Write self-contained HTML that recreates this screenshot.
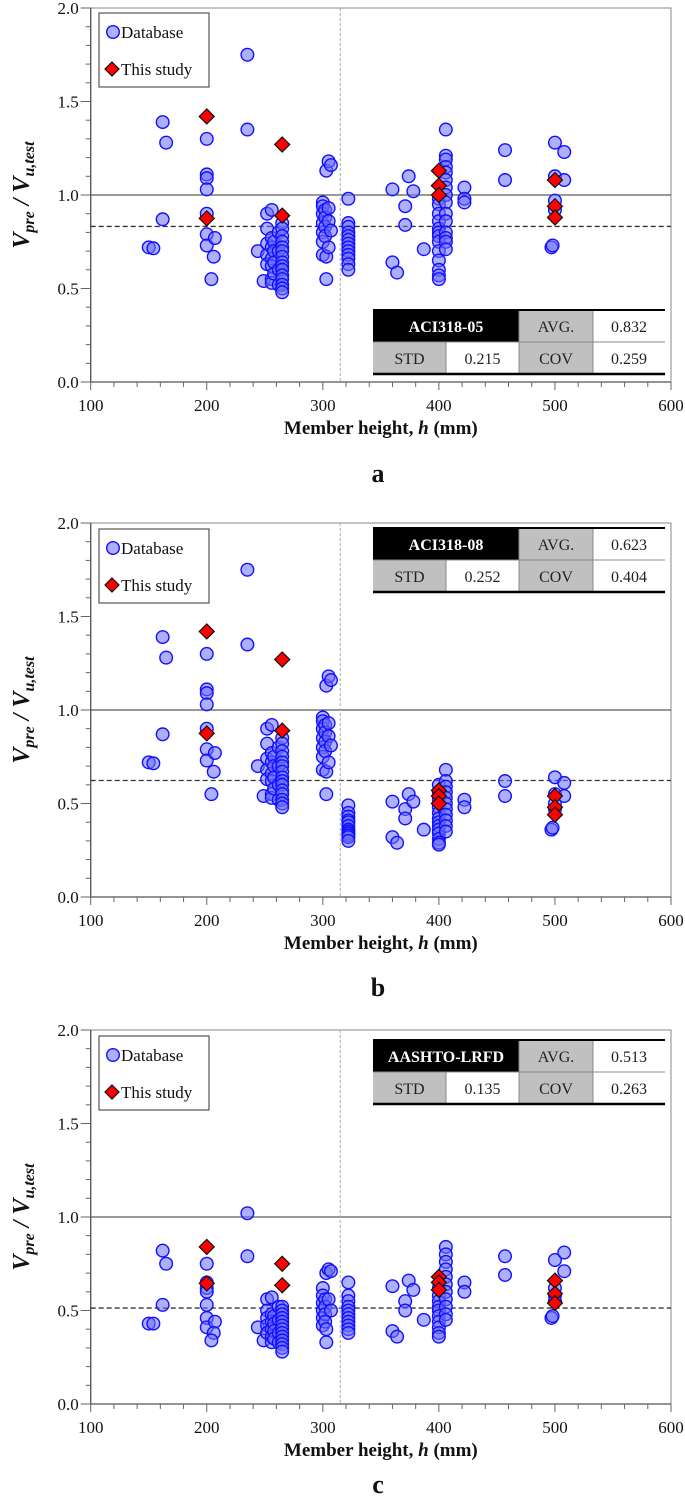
<!DOCTYPE html>
<html><head><meta charset="utf-8">
<style>
html,body{margin:0;padding:0;background:#fff;}
svg{display:block;font-family:"Liberation Serif",serif;}
</style></head>
<body>
<svg id="chart" width="685" height="1500" viewBox="0 0 685 1500" xmlns="http://www.w3.org/2000/svg"></svg>
<script>
// ---------- data ----------
const xTicks = [100, 200, 300, 400, 500, 600];
const yTicks = [0.0, 0.5, 1.0, 1.5, 2.0];
const panelLabels = ['a', 'b', 'c'];
const codeNames = ['ACI318-05', 'ACI318-08', 'AASHTO-LRFD'];
const avgValues = [0.832, 0.623, 0.513];
const stdValues = [0.215, 0.252, 0.135];
const covValues = [0.259, 0.404, 0.263];
const divideHeight = 315;

const dbA = [[150,.72],[154,.715],[162,.87],[162,1.39],[165,1.28],
[200,1.30],[200,1.11],[200,1.09],[200,1.03],[200,.90],[200,.79],[200,.73],[207,.77],[206,.67],[204,.55],
[235,1.75],[235,1.35],[244,.70],[249,.54],[252,.90],[252,.82],[252,.74],[252,.68],[252,.63],
[256,.92],[256,.77],[256,.72],[256,.66],[256,.62],[256,.55],[256,.53],[258,.75],[258,.70],[258,.64],[258,.58],
[262,.80],[262,.70],[262,.60],[262,.52],
[265,.85],[265,.82],[265,.78],[265,.75],[265,.72],[265,.70],[265,.67],[265,.64],[265,.62],[265,.60],[265,.57],[265,.55],[265,.52],[265,.50],[265,.48],
[300,.96],[300,.94],[300,.90],[300,.85],[300,.80],[300,.75],[300,.68],[302,.92],[302,.88],[302,.83],[302,.78],
[303,1.13],[303,.55],[303,.67],[305,1.18],[305,.93],[305,.86],[305,.72],[307,1.16],[307,.81],
[322,.98],[322,.85],[322,.83],[322,.80],[322,.78],[322,.76],[322,.74],[322,.72],[322,.70],[322,.68],[322,.66],[322,.63],[322,.60],
[360,1.03],[360,.64],[364,.585],[371,.94],[371,.84],[374,1.10],[378,1.02],[387,.71],
[400,.98],[400,.95],[400,.90],[400,.86],[400,.82],[400,.80],[400,.78],[400,.75],[400,.70],[400,.65],[400,.60],[400,.57],[400,.55],
[406,1.35],[406,1.21],[406,1.19],[406,1.15],[406,1.12],[406,1.08],[406,1.04],[406,1.00],[406,.96],[406,.90],[406,.86],[406,.80],[406,.77],[406,.75],[406,.71],
[422,1.04],[422,.98],[422,.96],[457,1.24],[457,1.08],[500,1.28],[500,1.10],[500,.97],[500,.92],[497,.72],[498,.73],[508,1.23],[508,1.08]];

const dbB = [[150,.72],[154,.715],[162,.87],[162,1.39],[165,1.28],
[200,1.30],[200,1.11],[200,1.09],[200,1.03],[200,.90],[200,.79],[200,.73],[207,.77],[206,.67],[204,.55],
[235,1.75],[235,1.35],[244,.70],[249,.54],[252,.90],[252,.82],[252,.74],[252,.68],[252,.63],
[256,.92],[256,.77],[256,.72],[256,.66],[256,.62],[256,.55],[256,.53],[258,.75],[258,.70],[258,.64],[258,.58],
[262,.80],[262,.70],[262,.60],[262,.52],
[265,.85],[265,.82],[265,.78],[265,.75],[265,.72],[265,.70],[265,.67],[265,.64],[265,.62],[265,.60],[265,.57],[265,.55],[265,.52],[265,.50],[265,.48],
[300,.96],[300,.94],[300,.90],[300,.85],[300,.80],[300,.75],[300,.68],[302,.92],[302,.88],[302,.83],[302,.78],
[303,1.13],[303,.55],[303,.67],[305,1.18],[305,.93],[305,.86],[305,.72],[307,1.16],[307,.81],
[322,.49],[322,.45],[322,.43],[322,.41],[322,.40],[322,.38],[322,.36],[322,.35],[322,.34],[322,.33],[322,.32],[322,.30],
[360,.51],[360,.32],[364,.29],[371,.47],[371,.42],[374,.55],[378,.51],[387,.36],
[400,.60],[400,.56],[400,.52],[400,.48],[400,.45],[400,.42],[400,.40],[400,.38],[400,.36],[400,.34],[400,.31],[400,.29],[400,.28],
[406,.68],[406,.62],[406,.59],[406,.56],[406,.53],[406,.50],[406,.47],[406,.44],[406,.41],[406,.38],[406,.35],
[422,.52],[422,.48],[457,.62],[457,.54],[500,.64],[500,.55],[500,.50],[500,.47],[497,.36],[498,.37],[508,.61],[508,.54]];

const dbC = [[150,.43],[154,.43],[162,.82],[162,.53],[165,.75],
[200,.75],[200,.65],[200,.62],[200,.60],[200,.53],[200,.46],[200,.41],[207,.44],[206,.38],[204,.34],
[235,1.02],[235,.79],[244,.41],[249,.34],[252,.56],[252,.50],[252,.46],[252,.42],[252,.38],
[256,.57],[256,.48],[256,.44],[256,.40],[256,.36],[256,.33],[258,.47],[258,.43],[258,.39],[258,.35],
[262,.52],[262,.45],[262,.38],[262,.33],
[265,.52],[265,.50],[265,.48],[265,.46],[265,.44],[265,.42],[265,.40],[265,.38],[265,.36],[265,.34],[265,.32],[265,.30],[265,.28],
[300,.62],[300,.58],[300,.54],[300,.50],[300,.46],[300,.42],[302,.56],[302,.52],[302,.48],[302,.44],
[303,.70],[303,.33],[303,.40],[305,.72],[305,.56],[307,.71],[307,.50],
[322,.65],[322,.58],[322,.55],[322,.52],[322,.50],[322,.48],[322,.46],[322,.44],[322,.42],[322,.40],[322,.38],
[360,.63],[360,.39],[364,.36],[371,.55],[371,.50],[374,.66],[378,.61],[387,.45],
[400,.62],[400,.58],[400,.55],[400,.52],[400,.50],[400,.47],[400,.44],[400,.41],[400,.38],[400,.36],
[406,.84],[406,.80],[406,.76],[406,.72],[406,.68],[406,.64],[406,.60],[406,.56],[406,.52],[406,.48],[406,.45],
[422,.65],[422,.60],[457,.79],[457,.69],[500,.77],[500,.62],[500,.58],[500,.55],[497,.46],[498,.47],[508,.81],[508,.71]];

const studyA = [[200,1.42],[200,.875],[265,1.27],[265,.89],[400,1.13],[400,1.05],[400,1.00],[500,1.08],[500,.94],[500,.88]];
const studyB = [[200,1.42],[200,.875],[265,1.27],[265,.89],[400,.57],[400,.54],[400,.50],[500,.54],[500,.48],[500,.44]];
const studyC = [[200,.84],[200,.645],[265,.75],[265,.635],[400,.68],[400,.65],[400,.61],[500,.66],[500,.59],[500,.54]];

const dbSets = [dbA, dbB, dbC];
const studySets = [studyA, studyB, studyC];

// ---------- layout ----------
const NS = 'http://www.w3.org/2000/svg';
const svg = document.getElementById('chart');
const X0 = 90.7, X1 = 671;
const panelTop = [8, 523, 1030];
const panelBot = [382, 897, 1404];
const tableTop = [310, 528, 1040];
const legendTop = [13, 529, 1036];
const labelY = [482, 996, 1493];

function mk(tag, attrs, parent) {
  const e = document.createElementNS(NS, tag);
  for (const k in attrs) e.setAttribute(k, attrs[k]);
  (parent || svg).appendChild(e);
  return e;
}

for (let p = 0; p < 3; p++) {
  const top = panelTop[p], bot = panelBot[p];
  const xs = v => X0 + (v - 100) / 500 * (X1 - X0);
  const ys = v => bot - v / 2 * (bot - top);
  const g = mk('g', {});
  
  

  const frame = mk('rect', {x: X0, y: top, width: X1 - X0, height: bot - top, fill: 'none', stroke: '#888', 'stroke-width': 1}, g);
  
  
  mk('line', {x1: X0, y1: top, x2: X0, y2: bot, stroke: '#555', 'stroke-width': 1.3}, g);
  mk('line', {x1: X0, y1: bot, x2: X1, y2: bot, stroke: '#555', 'stroke-width': 1.3}, g);

  for (let i = 0; i <= 20; i++) {
    const v = i / 10, y = ys(v);
    const major = i % 5 === 0;
    mk('line', {x1: X0 - (major ? 10 : 5), y1: y, x2: X0, y2: y, stroke: '#666', 'stroke-width': 1}, g);
  }
  yTicks.forEach(v => {
    const t = mk('text', {x: X0 - 12, y: ys(v) + 6, 'text-anchor': 'end', 'font-size': 17, fill: '#111'}, g);
    t.textContent = v.toFixed(1);
    
    
  });
  for (let v = 100; v <= 600; v += 20) {
    const x = xs(v), major = v % 100 === 0;
    mk('line', {x1: x, y1: bot, x2: x, y2: bot + (major ? 8 : 5), stroke: '#666', 'stroke-width': 1}, g);
  }
  xTicks.forEach(v => {
    const t = mk('text', {x: xs(v), y: bot + 29, 'text-anchor': 'middle', 'font-size': 17, fill: '#111'}, g);
    t.textContent = v;
    
    
  });

  const l1 = mk('line', {x1: X0, y1: ys(1), x2: X1, y2: ys(1), stroke: '#333', 'stroke-width': 1}, g);
  
  
  const la = mk('line', {x1: X0, y1: ys(avgValues[p]), x2: X1, y2: ys(avgValues[p]), stroke: '#333', 'stroke-width': 1.3, 'stroke-dasharray': '5,3'}, g);
  
  
  const lv = mk('line', {x1: xs(divideHeight), y1: top, x2: xs(divideHeight), y2: bot, stroke: '#aaa', 'stroke-width': 1, 'stroke-dasharray': '3,2'}, g);
  
  

  dbSets[p].forEach(d => {
    const c = mk('circle', {cx: xs(d[0]), cy: ys(d[1]), r: 6.3, fill: 'rgba(110,110,255,0.55)', stroke: '#1010ff', 'stroke-width': 1.4}, g);
    
    
  });
  studySets[p].forEach(d => {
    const x = xs(d[0]), y = ys(d[1]), s = 7.5;
    const q = mk('polygon', {points: `${x},${y - s} ${x + s},${y} ${x},${y + s} ${x - s},${y}`, fill: '#ff0000', stroke: '#111', 'stroke-width': 1.2}, g);
    
    
  });

  const lt = legendTop[p];
  const lg = mk('g', {}, g);
  
  
  mk('rect', {x: 99, y: lt, width: 110, height: 74, fill: '#fff', stroke: '#333', 'stroke-width': 1}, lg);
  mk('circle', {cx: 113, cy: lt + 19, r: 6.3, fill: 'rgba(110,110,255,0.55)', stroke: '#1010ff', 'stroke-width': 1.4}, lg);
  const t1 = mk('text', {x: 121, y: lt + 25, 'font-size': 17, fill: '#111'}, lg);
  t1.textContent = 'Database';
  
  
  mk('polygon', {points: `112,${lt + 49} 119,${lt + 56} 112,${lt + 63} 105,${lt + 56}`, fill: '#ff0000', stroke: '#111', 'stroke-width': 1.2}, lg);
  const t2 = mk('text', {x: 121, y: lt + 62, 'font-size': 17, fill: '#111'}, lg);
  t2.textContent = 'This study';
  
  

  const tt = tableTop[p], rh = 32;
  const cols = [373, 446, 519, 593, 665];
  const tg = mk('g', {}, g);
  
  
  mk('rect', {x: cols[0], y: tt, width: cols[2] - cols[0], height: rh, fill: '#000'}, tg);
  mk('rect', {x: cols[2], y: tt, width: cols[3] - cols[2], height: rh, fill: '#c0c0c0'}, tg);
  mk('rect', {x: cols[3], y: tt, width: cols[4] - cols[3], height: rh, fill: '#fff'}, tg);
  mk('rect', {x: cols[0], y: tt + rh, width: cols[1] - cols[0], height: rh, fill: '#c0c0c0'}, tg);
  mk('rect', {x: cols[1], y: tt + rh, width: cols[2] - cols[1], height: rh, fill: '#fff'}, tg);
  mk('rect', {x: cols[2], y: tt + rh, width: cols[3] - cols[2], height: rh, fill: '#c0c0c0'}, tg);
  mk('rect', {x: cols[3], y: tt + rh, width: cols[4] - cols[3], height: rh, fill: '#fff'}, tg);
  mk('line', {x1: cols[0], y1: tt + rh, x2: cols[4], y2: tt + rh, stroke: '#888', 'stroke-width': 1}, tg);
  [1, 2, 3].forEach(i => mk('line', {x1: cols[i], y1: i === 1 ? tt + rh : tt, x2: cols[i], y2: tt + 2 * rh, stroke: '#888', 'stroke-width': 1}, tg));
  mk('line', {x1: cols[0], y1: tt, x2: cols[4], y2: tt, stroke: '#000', 'stroke-width': 2}, tg);
  mk('line', {x1: cols[0], y1: tt + 2 * rh, x2: cols[4], y2: tt + 2 * rh, stroke: '#000', 'stroke-width': 2.5}, tg);
  const cells = [
    [(cols[0] + cols[2]) / 2, tt + 22, codeNames[p], '#fff', 'bold', 'table-code-name'],
    [(cols[2] + cols[3]) / 2, tt + 22, 'AVG.', '#222', 'normal', 'table-avg-label'],
    [(cols[3] + cols[4]) / 2, tt + 22, avgValues[p].toFixed(3), '#222', 'normal', 'table-avg-value'],
    [(cols[0] + cols[1]) / 2, tt + rh + 22, 'STD', '#222', 'normal', 'table-std-label'],
    [(cols[1] + cols[2]) / 2, tt + rh + 22, stdValues[p].toFixed(3), '#222', 'normal', 'table-std-value'],
    [(cols[2] + cols[3]) / 2, tt + rh + 22, 'COV', '#222', 'normal', 'table-cov-label'],
    [(cols[3] + cols[4]) / 2, tt + rh + 22, covValues[p].toFixed(3), '#222', 'normal', 'table-cov-value']
  ];
  cells.forEach(c => {
    const t = mk('text', {x: c[0], y: c[1], 'text-anchor': 'middle', 'font-size': 16, fill: c[3], 'font-weight': c[4]}, tg);
    t.textContent = c[2];
    
    
  });

  const xt = mk('text', {x: (X0 + X1) / 2, y: bot + 52, 'text-anchor': 'middle', 'font-size': 19, 'font-weight': 'bold', fill: '#111'}, g);
  xt.innerHTML = 'Member height, <tspan font-style="italic">h</tspan> (mm)';
  
  
  const cy = (top + bot) / 2;
  const yt = mk('text', {x: 0, y: 0, 'text-anchor': 'middle', 'font-size': 24, 'font-weight': 'bold', 'font-style': 'italic', fill: '#111', transform: `translate(29,${cy}) rotate(-90)`}, g);
  yt.innerHTML = 'V<tspan font-size="16" dy="5">pre</tspan><tspan dy="-5"> / V</tspan><tspan font-size="16" dy="5">u,test</tspan>';
  
  

  const pl = mk('text', {x: 378, y: labelY[p], 'text-anchor': 'middle', 'font-size': 26, 'font-weight': 'bold', fill: '#111'}, g);
  pl.textContent = panelLabels[p];
  
  
}
</script>
</body></html>
